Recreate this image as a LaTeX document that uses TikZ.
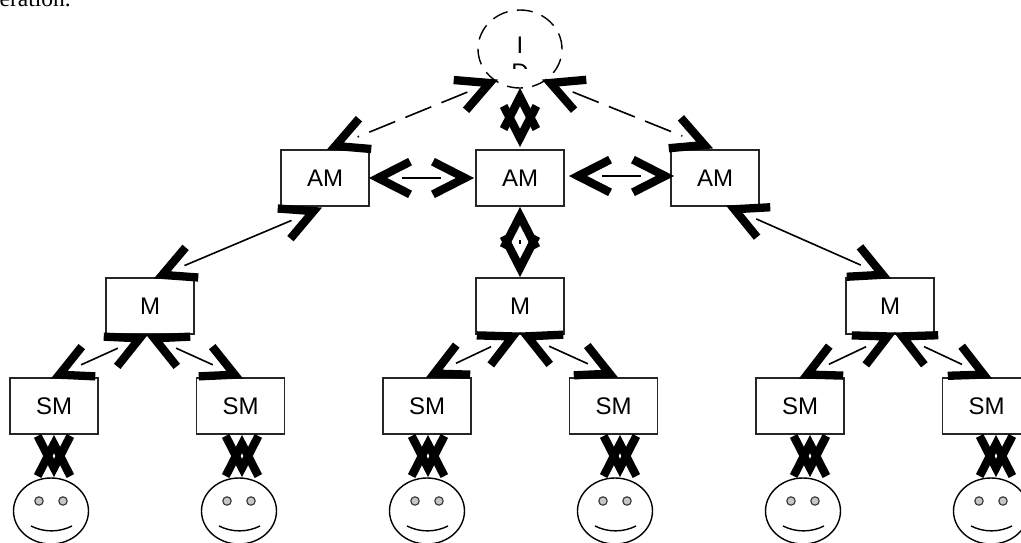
\documentclass[tikz,border=0pt]{standalone}
\usepackage{fontspec}
\setmainfont{Liberation Sans}
\newfontfamily\serifcut{Liberation Serif}
\usetikzlibrary{calc,shapes.geometric}
\tikzset{
  boxnode/.style={draw=black!85,line width=1.5pt,fill=white,minimum width=88pt,minimum height=56pt,inner sep=0pt,font=\fontsize{24}{24}\selectfont},
  facenode/.style={ellipse,draw=black,line width=1.4pt,minimum width=75pt,minimum height=66pt,inner sep=0pt},
  rootnode/.style={ellipse,draw=black,line width=1.4pt,dash pattern=on 16pt off 9.4pt,minimum width=84pt,minimum height=78pt,inner sep=0pt},
  eye/.style={draw=black!80,fill=black!22,line width=1.1pt},
  smile/.style={draw=black,line width=1.4pt},
  barb/.style={draw=black,line width=8.3pt,line join=miter},
  wire/.style={draw=black,line width=1.6pt},
  dashwire/.style={draw=black,line width=1.6pt,dash pattern=on 28pt off 11pt},
  labeltext/.style={font=\fontsize{24}{24}\selectfont,inner sep=0pt,anchor=base}
}
% tips of both arrowheads of a connector between two nodes
\newcommand{\barbs}[4]{%
  \coordinate (P) at ($(#1.center)+(#2)$);
  \coordinate (Q) at ($(#3.center)+(#4)$);
  \coordinate (Pa) at ($(P)!8pt!(Q)$);
  \coordinate (Qa) at ($(Q)!8pt!(P)$);
  \draw[barb] ($(Pa)!36pt!27:(Q)$) -- (Pa) -- ($(Pa)!36pt!-27:(Q)$);
  \draw[barb] ($(Qa)!36pt!27:(P)$) -- (Qa) -- ($(Qa)!36pt!-27:(P)$);
}
\newcommand{\lnk}[5][wire]{%
  \coordinate (P) at ($(#2.center)+(#3)$);
  \coordinate (Q) at ($(#4.center)+(#5)$);
  \draw[#1] ($(P)!32pt!(Q)$) -- ($(Q)!32pt!(P)$);
  \barbs{#2}{#3}{#4}{#5}
}
\newcommand{\facefeatures}[1]{%
  \fill[eye] ($(#1.center)+(-12,-10)$) circle (4.2pt);
  \fill[eye] ($(#1.center)+(12,-10)$) circle (4.2pt);
  \draw[smile] ($(#1.center)+(-20,15)$) .. controls ($(#1.center)+(-7,21.5)$) and ($(#1.center)+(8,21.5)$) .. ($(#1.center)+(21,15)$);
}
\begin{document}
\begin{tikzpicture}[x=1pt,y=-1pt]
\useasboundingbox (0,0) rectangle (1021,542);
\clip (0,0) rectangle (1021,542);
\fill[white] (0,0) rectangle (1021,542);
\node[anchor=base east,inner sep=0pt,font=\fontsize{23.5}{23.5}\selectfont\serifcut] (topline) at (71,6) {eration.};
% root
\node[rootnode] (root) at (520,49) {};
\node[labeltext] (rootI) at (520,53) {I};
\begin{scope}
  \clip (470,55) rectangle (570,68);
  \node[labeltext] (rootD) at (520,80) {D};
\end{scope}
% boxes
\node[boxnode] (amL) at (325,178) {AM};
\node[boxnode] (amM) at (520,178) {AM};
\node[boxnode] (amR) at (715,178) {AM};
\node[boxnode] (mL) at (150,306) {M};
\node[boxnode] (mM) at (520,306) {M};
\node[boxnode] (mR) at (890,306) {M};
\node[boxnode] (sa) at (54,406) {SM};
\node[boxnode] (sb) at (240.5,406) {SM};
\node[boxnode] (sc) at (427,406) {SM};
\node[boxnode] (sd) at (613.5,406) {SM};
\node[boxnode] (se) at (800,406) {SM};
\node[boxnode] (sf) at (986.5,406) {SM};
% faces
\node[facenode] (fa) at (51,511) {};
\node[facenode] (fb) at (239,511) {};
\node[facenode] (fc) at (427,511) {};
\node[facenode] (fd) at (615,511) {};
\node[facenode] (fe) at (803,511) {};
\node[facenode] (ff) at (991,511) {};
\facefeatures{fa}\facefeatures{fb}\facefeatures{fc}\facefeatures{fd}\facefeatures{fe}\facefeatures{ff}
% connectors
\lnk[dashwire]{root}{-23,31}{amL}{3,-29}
\lnk[dashwire]{root}{23,31}{amR}{-3,-30}
\barbs{root}{0,40}{amM}{0,-32}
\lnk{amL}{45,0}{amM}{-47,0}
\lnk{amM}{50,-2}{amR}{-42,-2}
\lnk{amM}{0,30}{mM}{0,-30}
\lnk{amL}{-4,30}{mL}{5,-28}
\lnk{amR}{12,28}{mR}{0,-28}
\lnk{mL}{-3,29}{sa}{-2,-28}
\lnk{mL}{-3,29}{sb}{1.5,-28}
\lnk{mM}{0,27}{sc}{0,-29}
\lnk{mM}{0,27}{sd}{3.5,-29}
\lnk{mR}{5,27}{se}{0,-28}
\lnk{mR}{5,27}{sf}{4.5,-28}
\barbs{sa}{0,30}{fa}{3,-35}
\barbs{sb}{1.5,30}{fb}{3,-35}
\barbs{sc}{1,30}{fc}{1,-35}
\barbs{sd}{6.5,30}{fd}{5,-35}
\barbs{se}{10,30}{fe}{7,-35}
\barbs{sf}{9.5,30}{ff}{5,-35}
\end{tikzpicture}
\end{document}
